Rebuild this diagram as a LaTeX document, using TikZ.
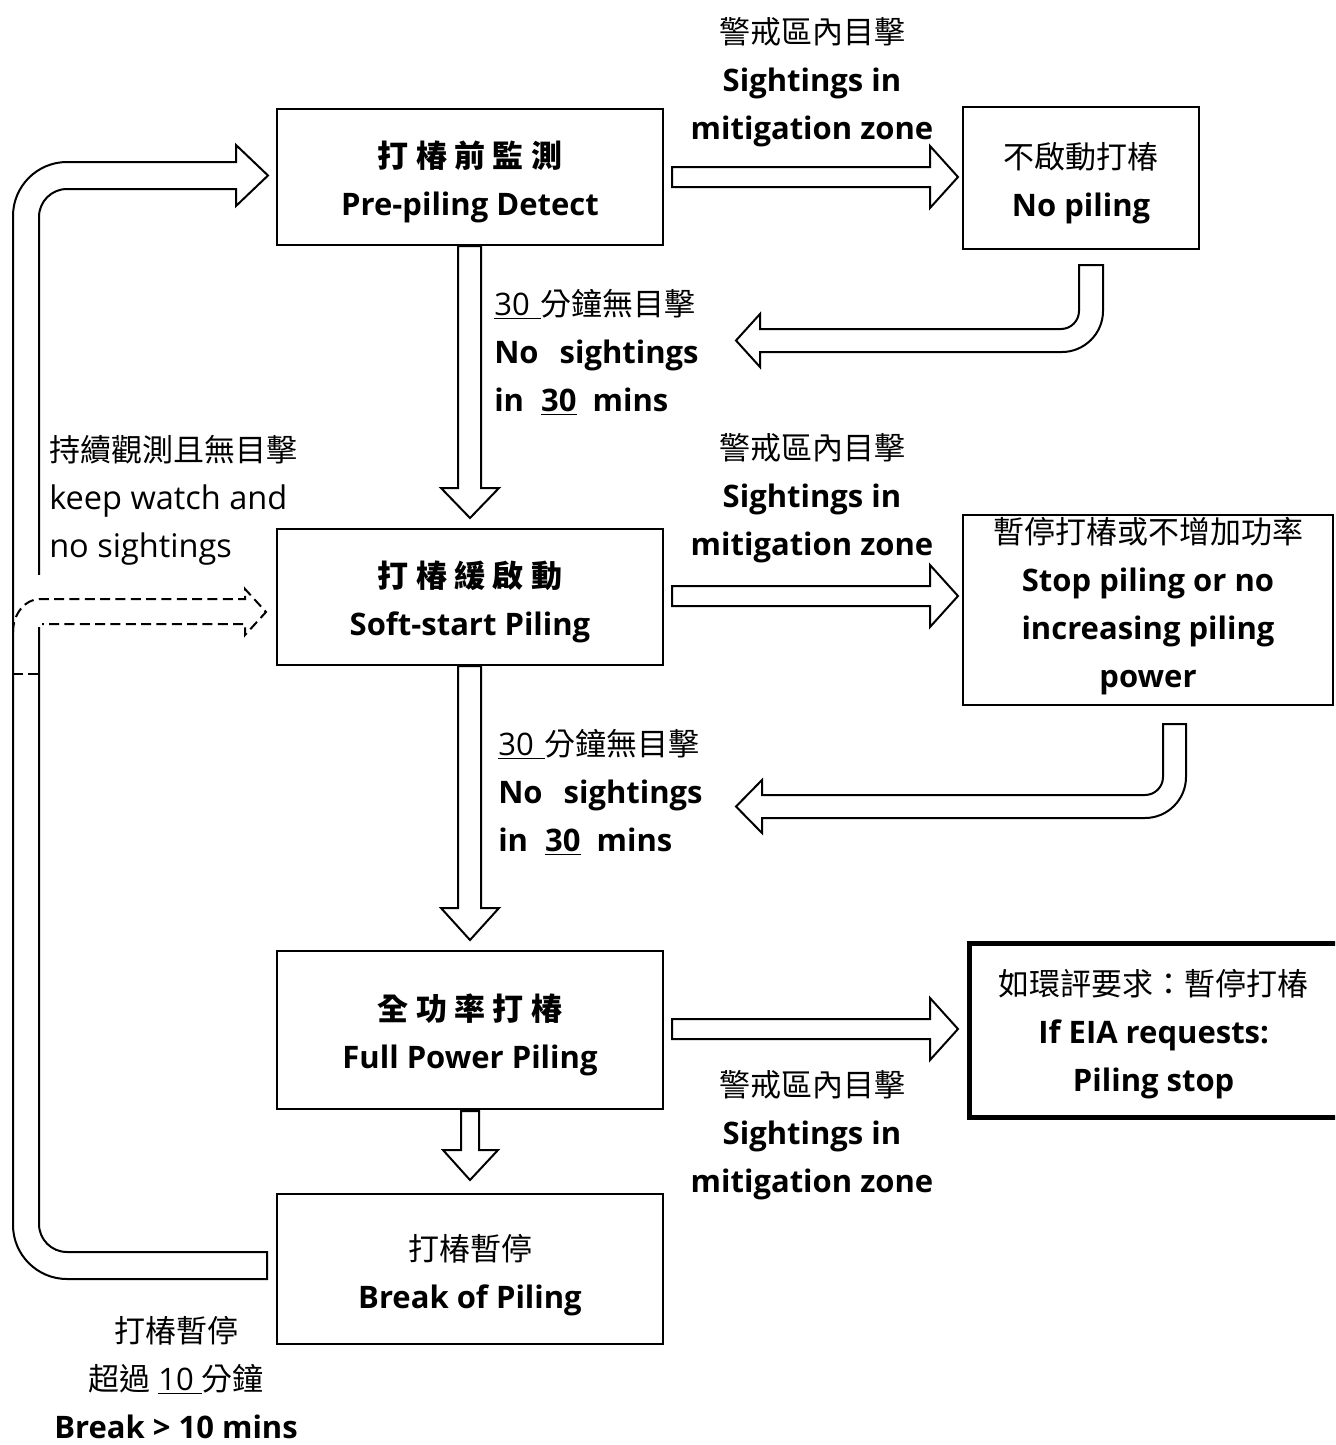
\documentclass[tikz,border=0pt]{standalone}
\usepackage{fontspec}
\setmainfont{Open Sans}
\newfontfamily\cjk{Noto Sans CJK TC}
\newcommand\fs{\fontsize{23.25pt}{36pt}\selectfont}
\newcommand\fsr{\fontsize{24.4pt}{36pt}\selectfont}
\newcommand\gp{\hspace{5.6pt}}
\begin{document}
\begin{tikzpicture}[x=0.75pt,y=-0.75pt,
  box/.style={draw, line width=1.5pt, fill=white, inner sep=0pt},
  hollow/.style={draw, line width=1.5pt, fill=white, line join=miter},
  lbl/.style={align=center, font=\fs, inner sep=0pt},
  lbll/.style={align=left, font=\fs, inner sep=0pt, anchor=west},
  dashbranch/.style={draw, line width=1.5pt, dash pattern=on 7.5pt off 4pt}]
\useasboundingbox (0,0) rectangle (1335,1445);
\clip (0,0) rectangle (1335,1445);

% boxes
\node[box, minimum width=386*0.75pt, minimum height=136*0.75pt] (b1) at (470,177) {};
\node[box, minimum width=236*0.75pt, minimum height=142*0.75pt] (nop) at (1081,178) {};
\node[box, minimum width=386*0.75pt, minimum height=136*0.75pt] (b2) at (470,597) {};
\node[box, minimum width=370*0.75pt, minimum height=190*0.75pt] (stop) at (1148,610) {};
\node[box, minimum width=386*0.75pt, minimum height=158*0.75pt] (b3) at (470,1030) {};
\node[box, line width=3.75pt, minimum width=376*0.75pt, minimum height=174*0.75pt] (eia) at (1157,1030) {};
\node[box, minimum width=386*0.75pt, minimum height=150*0.75pt] (b4) at (470,1269) {};

% box texts
\node[lbl, yshift=-3.4pt] (b1t) at (b1) {{\cjk\bfseries 打\gp 椿\gp 前\gp 監\gp 測}\\\textbf{Pre-piling Detect}};
\node[lbl, yshift=-3.75pt] (nopt) at (nop) {{\cjk 不啟動打椿}\\\textbf{No piling}};
\node[lbl, yshift=-3.4pt] (b2t) at (b2) {{\cjk\bfseries 打\gp 椿\gp 緩\gp 啟\gp 動}\\\textbf{Soft-start Piling}};
\node[lbl, yshift=3pt] (stopt) at (stop) {{\cjk 暫停打椿或不增加功率}\\\textbf{Stop piling or no}\\\textbf{increasing piling}\\\textbf{power}};
\node[lbl, yshift=-3.4pt] (b3t) at (b3) {{\cjk\bfseries 全\gp 功\gp 率\gp 打\gp 椿}\\\textbf{Full Power Piling}};
\node[lbl, yshift=-3.4pt, xshift=-2.5pt] (eiat) at (eia) {{\cjk 如環評要求：暫停打椿}\\\textbf{If EIA requests:}\\\textbf{Piling stop}};
\node[lbl, yshift=-4.5pt] (b4t) at (b4) {{\cjk 打椿暫停}\\\textbf{Break of Piling}};

% labels
\node[lbl] (l1) at (812,82.5) {{\cjk 警戒區內目擊}\\\textbf{Sightings in}\\\textbf{mitigation zone}};
\node[lbl] (l2) at (812,498) {{\cjk 警戒區內目擊}\\\textbf{Sightings in}\\\textbf{mitigation zone}};
\node[lbl] (l3) at (812,1135) {{\cjk 警戒區內目擊}\\\textbf{Sightings in}\\\textbf{mitigation zone}};
\node[lbll] (n1) at (494,352) {\underline{30\hspace{0.35em}}{\cjk 分鐘無目擊}\\
  \textbf{No\hspace{0.68em}sightings}\\
  \textbf{in\hspace{0.55em}\underline{30}\hspace{0.52em}mins}};
\node[lbll] (n2) at (498,792) {\underline{30\hspace{0.35em}}{\cjk 分鐘無目擊}\\
  \textbf{No\hspace{0.68em}sightings}\\
  \textbf{in\hspace{0.55em}\underline{30}\hspace{0.52em}mins}};
\node[lbll] (kw) at (49,500) {{\cjk 持續觀測且無目擊}\\{\fsr keep watch and}\\{\fsr no sightings}};
\node[lbl] (brk) at (176,1378) {{\cjk 打椿暫停}\\{\cjk 超過} \underline{10 }{\cjk 分鐘}\\\textbf{Break > 10 mins}};

% right hollow arrows
\draw[hollow] (672,167) -- (930,167) -- (930,146) -- (958,177) -- (930,208) -- (930,187) -- (672,187) -- cycle;
\draw[hollow] (672,586) -- (930,586) -- (930,565) -- (958,596) -- (930,627) -- (930,606) -- (672,606) -- cycle;
\draw[hollow] (672,1019) -- (930,1019) -- (930,998) -- (958,1029) -- (930,1060) -- (930,1039) -- (672,1039) -- cycle;

% down hollow arrows
\draw[hollow] (458,246) -- (458,488) -- (441,488) -- (470,518) -- (499,488) -- (481,488) -- (481,246) -- cycle;
\draw[hollow] (458,666) -- (458,908) -- (441,908) -- (470,940) -- (499,908) -- (481,908) -- (481,666) -- cycle;
\draw[hollow] (461,1111) -- (461,1150) -- (443,1150) -- (470,1180) -- (498,1150) -- (479,1150) -- (479,1111) -- cycle;

% return hooks
\draw[hollow] (1103,265) -- (1103,311) .. controls (1103,333.6) and (1084.4,352) .. (1062,352)
  -- (760,352) -- (760,367) -- (736,340.5) -- (760,314) -- (760,329) -- (1061,329)
  .. controls (1070.9,329) and (1079,320.9) .. (1079,311) -- (1079,265) -- cycle;
\draw[hollow] (1186,724) -- (1186,777) .. controls (1186,799.6) and (1167.6,818) .. (1145,818)
  -- (762,818) -- (762,833) -- (736,806.5) -- (762,780) -- (762,795) -- (1145,795)
  .. controls (1154.9,795) and (1163,786.9) .. (1163,777) -- (1163,724) -- cycle;

% big loop arrow
\draw[hollow] (267,1279) -- (67,1279) .. controls (37.2,1279) and (13,1254.8) .. (13,1225)
  -- (13,216) .. controls (13,186.2) and (37.2,162) .. (67,162) -- (236,162) -- (236,145)
  -- (268,175.5) -- (236,206) -- (236,189) -- (67,189) .. controls (51.5,189) and (39,201.5) .. (39,217)
  -- (39,1224) .. controls (39,1239.5) and (51.5,1252) .. (67,1252) -- (267,1252) -- cycle;
\fill[white] (36,575) rectangle (42,627);

% dashed branch
\draw[dashbranch] (13,632) .. controls (13,614) and (25,599) .. (40,599) -- (245,599) -- (245,589)
  -- (266,612) -- (245,635) -- (245,624) -- (42,624);
\draw[dashbranch] (13,674) -- (39,674);
\end{tikzpicture}
\end{document}
